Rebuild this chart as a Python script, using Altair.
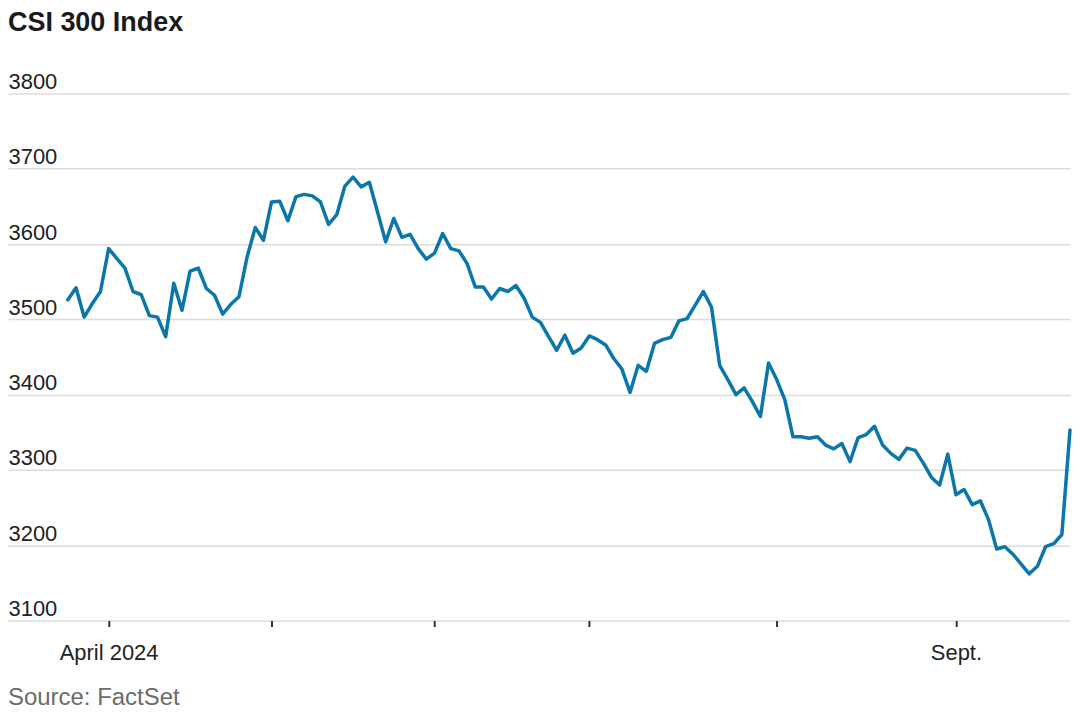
import altair as alt
import pandas as pd

title_text = "CSI 300 Index"
source_text = "Source: FactSet"

# CSI 300 daily closes, trading days from 2024-03-25 to 2024-09-24
closes = [
    3526, 3542, 3503, 3521, 3537, 3594, 3581, 3568, 3537, 3533,
    3505, 3503, 3477, 3548, 3512, 3564, 3568, 3541, 3532, 3507,
    3520, 3530, 3583, 3622, 3605, 3656, 3657, 3631, 3663, 3666,
    3664, 3656, 3626, 3639, 3677, 3689, 3676, 3682, 3643, 3603,
    3634, 3609, 3613, 3594, 3580, 3588, 3614, 3594, 3591, 3574,
    3543, 3543, 3527, 3541, 3537, 3545, 3528, 3503, 3496, 3477,
    3459, 3479, 3455, 3462, 3478, 3473, 3466, 3448, 3434, 3403,
    3439, 3431, 3468, 3473, 3476, 3498, 3501, 3519, 3537, 3516,
    3439, 3420, 3400, 3409, 3391, 3371, 3442, 3420, 3393, 3344,
    3344, 3342, 3344, 3333, 3328, 3335, 3311, 3343, 3347, 3358,
    3333, 3322, 3314, 3329, 3326, 3309, 3290, 3280, 3321, 3267,
    3274, 3254, 3259, 3234, 3195, 3198, 3188, 3175, 3162, 3172,
    3198, 3202, 3214, 3353,
]

# first trading day of each month (trading-day index) and its label
month_ticks = [5, 25, 45, 64, 87, 109]
month_labels = ["April 2024", "", "", "", "", "Sept."]
y_ticks = [3100, 3200, 3300, 3400, 3500, 3600, 3700, 3800]

df = pd.DataFrame({"day": list(range(len(closes))), "close": closes})

label_expr = " : ".join(
    f"datum.value == {d} ? '{l}'" for d, l in zip(month_ticks, month_labels)
) + " : ''"

W, H = 1064, 528
LBL = "Liberation Sans, Arial, sans-serif"
REG = "Liberation Sans, Arial, sans-serif"

line = alt.Chart(df).mark_line(
    color="#0a76a9", strokeWidth=3.5, strokeJoin="round", strokeCap="round"
).encode(
    x=alt.X(
        "day:Q",
        scale=alt.Scale(domain=[-7.35, 123], nice=False, zero=False),
        axis=alt.Axis(
            values=month_ticks,
            labelExpr=label_expr,
            title=None,
            grid=False,
            domain=False,
            ticks=True,
            tickSize=6,
            tickWidth=2,
            tickColor="#333333",
            labelFont=LBL,
            labelFontSize=22,
            labelColor="#222222",
            labelBaseline="alphabetic",
            labelPadding=33,
            labelOverlap=False,
            labelFlush=False,
        ),
    ),
    y=alt.Y(
        "close:Q",
        scale=alt.Scale(domain=[3100, 3800], nice=False, zero=False),
        axis=alt.Axis(
            values=y_ticks,
            format="d",
            title=None,
            grid=True,
            gridColor="#dcdcdc",
            gridWidth=1.5,
            domain=False,
            ticks=False,
            tickSize=0,
            labelAlign="left",
            labelBaseline="alphabetic",
            labelOffset=-5,
            labelPadding=0,
            labelFont=LBL,
            labelFontSize=22,
            labelColor="#222222",
        ),
    ),
)

title = alt.Chart(pd.DataFrame({"t": [title_text]})).mark_text(
    align="left", baseline="alphabetic", font=REG, fontSize=27,
    fontWeight="bold", color="#1a1a1a"
).encode(x=alt.value(0), y=alt.value(-63), text="t:N")

source = alt.Chart(pd.DataFrame({"t": [source_text]})).mark_text(
    align="left", baseline="alphabetic", font=REG, fontSize=24,
    color="#6b6b6b"
).encode(x=alt.value(0), y=alt.value(613), text="t:N")

chart = alt.layer(line, title, source).properties(
    width=W, height=H, padding=0
).configure_view(stroke=None)

chart.save("out.html", embed_options={"renderer": "svg", "actions": False})
